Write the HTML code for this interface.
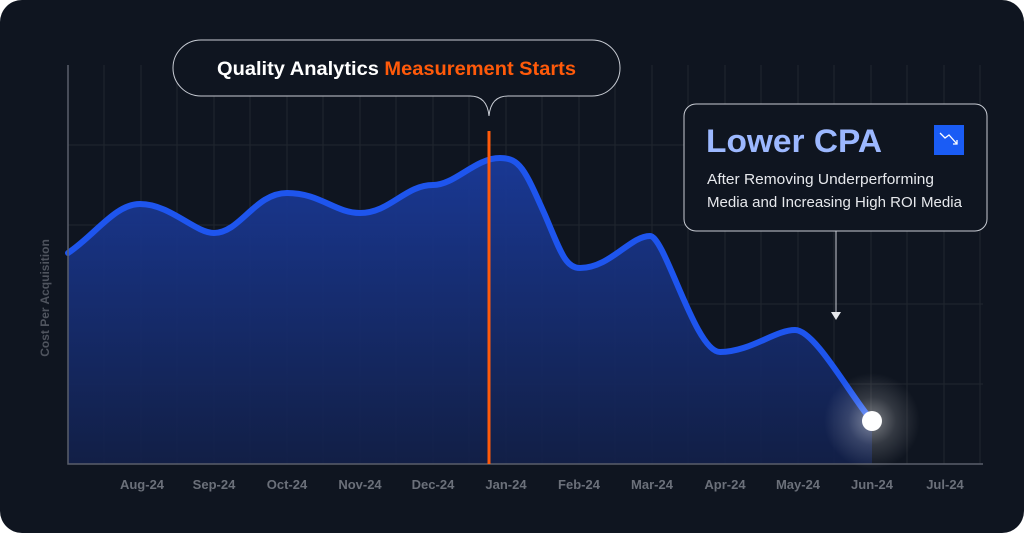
<!DOCTYPE html>
<html><head><style>
html,body{margin:0;padding:0;background:#fff;}
body{width:1024px;height:533px;overflow:hidden;font-family:"Liberation Sans",sans-serif;}
</style></head><body>
<svg width="1024" height="533" viewBox="0 0 1024 533" xmlns="http://www.w3.org/2000/svg">
<defs>
<linearGradient id="fill" x1="0" y1="0" x2="0" y2="1">
<stop offset="0" stop-color="#1a3a9a" stop-opacity="0.95"/>
<stop offset="1" stop-color="#12204a" stop-opacity="0.9"/>
</linearGradient>
<radialGradient id="glow">
<stop offset="0" stop-color="#ffffff" stop-opacity="0.45"/>
<stop offset="0.5" stop-color="#ffffff" stop-opacity="0.15"/>
<stop offset="1" stop-color="#ffffff" stop-opacity="0"/>
</radialGradient>
</defs>
<rect x="0" y="0" width="1024" height="533" rx="22" fill="#0f1520"/>
<g stroke="#21262f" stroke-width="1">
<path d="M104 65V464M141 65V464M177 65V464M214 65V464M250 65V464M287 65V464M323 65V464M360 65V464M396 65V464M433 65V464M469 65V464M506 65V464M542 65V464M579 65V464M615 65V464M652 65V464M688 65V464M725 65V464M761 65V464M798 65V464M834 65V464M871 65V464M907 65V464M944 65V464M980 65V464"/>
<path d="M68 145H983M68 225H983M68 304H983M68 384H983"/>
</g>
<path d="M68 253 C95 235,115 204,140 204 C170 204,195 233,214 233 C240 233,255 193,287 193 C320 193,335 213,360 213 C390 213,405 185,433 185 C455 185,475 158,500 158 C520 158,525 170,545 215 C560 250,565 268,580 268 C610 268,630 236,650 236 C665 236,695 352,720 352 C750 352,775 330,795 330 C815 330,850 395,872 421 L872 464 L68 464 Z" fill="url(#fill)"/>
<path d="M68 253 C95 235,115 204,140 204 C170 204,195 233,214 233 C240 233,255 193,287 193 C320 193,335 213,360 213 C390 213,405 185,433 185 C455 185,475 158,500 158 C520 158,525 170,545 215 C560 250,565 268,580 268 C610 268,630 236,650 236 C665 236,695 352,720 352 C750 352,775 330,795 330 C815 330,850 395,872 421" fill="none" stroke="#1e55ee" stroke-width="6" stroke-linecap="round"/>
<path d="M68 65V464H983" fill="none" stroke="#5a5f6a" stroke-width="1.5"/>
<line x1="489" y1="131" x2="489" y2="464" stroke="#ff5a0a" stroke-width="3"/>
<circle cx="872" cy="421" r="48" fill="url(#glow)"/>
<circle cx="872" cy="421" r="10" fill="#fff"/>
<path d="M201 40 H592 A28 28 0 0 1 592 96 H508 C495 96,490 105,489 116 C488 105,483 96,470 96 H201 A28 28 0 0 1 201 40 Z" fill="#0f1520" stroke="#c8ccd4" stroke-width="1"/>
<text x="217" y="75" font-size="19" font-weight="bold" fill="#fff" textLength="359" lengthAdjust="spacingAndGlyphs">Quality Analytics <tspan fill="#ff5a0a">Measurement Starts</tspan></text>
<rect x="684" y="104" width="303" height="127" rx="12" fill="#0f1520" stroke="#c8ccd4" stroke-width="1"/>
<text x="706" y="152" font-size="32" font-weight="bold" fill="#9cb8ff" textLength="176" lengthAdjust="spacingAndGlyphs">Lower CPA</text>
<rect x="934" y="125" width="30" height="30" fill="#1a5cf5"/>
<path d="M940 133 L945 138 L949 135 L957 144 M953 144 H957 V140" fill="none" stroke="#fff" stroke-width="1.3"/>
<text x="707" y="184" font-size="14.5" fill="#e6e8ec" textLength="227" lengthAdjust="spacingAndGlyphs">After Removing Underperforming</text>
<text x="707" y="207" font-size="14.5" fill="#e6e8ec" textLength="255" lengthAdjust="spacingAndGlyphs">Media and Increasing High ROI Media</text>
<line x1="836" y1="231" x2="836" y2="314" stroke="#c8ccd4" stroke-width="1"/>
<path d="M831 312 L841 312 L836 320 Z" fill="#e6e8ec"/>
<g font-size="13" font-weight="bold" fill="#6b707a" text-anchor="middle">
<text x="142" y="489">Aug-24</text><text x="214" y="489">Sep-24</text><text x="287" y="489">Oct-24</text>
<text x="360" y="489">Nov-24</text><text x="433" y="489">Dec-24</text><text x="506" y="489">Jan-24</text>
<text x="579" y="489">Feb-24</text><text x="652" y="489">Mar-24</text><text x="725" y="489">Apr-24</text>
<text x="798" y="489">May-24</text><text x="872" y="489">Jun-24</text><text x="945" y="489">Jul-24</text>
</g>
<text x="49" y="298" font-size="12" font-weight="bold" fill="#4f545e" text-anchor="middle" transform="rotate(-90 49 298)">Cost Per Acquisition</text>
</svg>
</body></html>
